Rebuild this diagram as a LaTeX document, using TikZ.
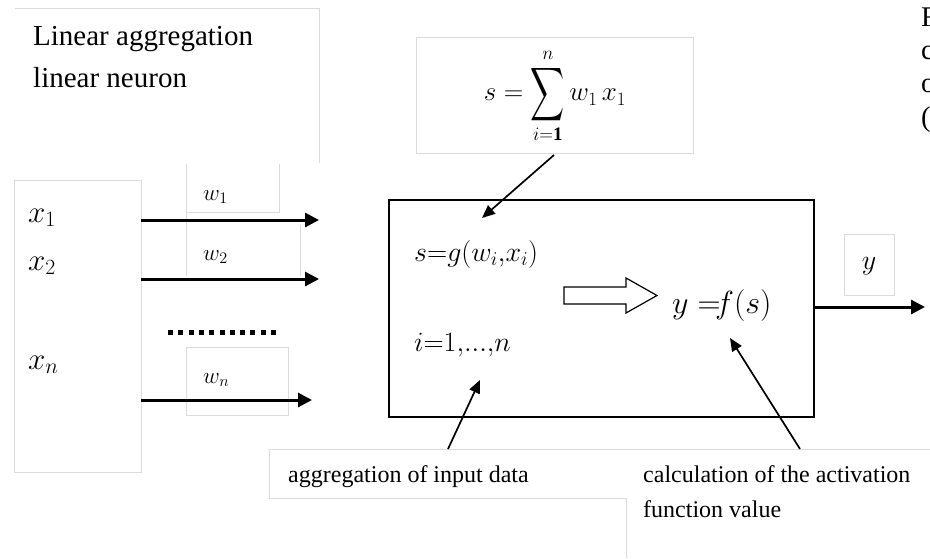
\RequirePackage{fix-cm}
\documentclass[tikz,border=0pt]{standalone}
\usepackage{exscale}
\usepackage{fontspec}
\setmainfont{Liberation Serif}
\usetikzlibrary{arrows.meta}
\tikzset{
  faint/.style={draw=black!14, line width=0.8pt},
  flow/.style={line width=3pt, -{Triangle[length=14pt,width=14pt]}},
  pointer/.style={line width=1.7pt, -{Triangle[length=13pt,width=11pt]}},
  txt/.style={inner sep=0pt, anchor=base west},
  big/.style={font=\fontsize{#1}{#1}\selectfont},
}
\newcommand{\tallsum}{\mathop{\vcenter{\hbox{\scalebox{0.95}[1.5]{$\displaystyle\sum$}}}}\limits}
\newcommand{\limtext}[1]{\hbox{\fontsize{19}{19}\selectfont$#1$}}
\begin{document}
\begin{tikzpicture}[x=1pt,y=-1pt]
  \useasboundingbox (0,0) rectangle (930,558);
  % Light text frames
  \draw[faint] (15,8) -- (319,8) -- (319,163);
  \draw[faint] (14,180) rectangle (141,472);
  \draw[faint] (186,164) -- (186,276) (186,212) -- (279,212) -- (279,164);
  \draw[faint] (300,225) -- (300,276);
  \draw[faint] (186,347) rectangle (288,415);
  \draw[faint] (416,37) rectangle (693,153);
  \draw[faint] (844,234) rectangle (894,295);
  \draw[faint] (269,449) -- (930,449) (269,449) -- (269,498) -- (626,498) -- (626,558);
  % Title
  \node[txt, big=29] (title1) at (33,45) {Linear aggregation};
  \node[txt, big=29] (title2) at (33,87) {linear neuron};
  % Text cut at the page edge
  \node[txt, big=28.5] (cut1) at (921,26) {F};
  \node[txt, big=28.5] (cut2) at (921,59) {c};
  \node[txt, big=28.5] (cut3) at (921,92) {o};
  \node[txt, big=28.5] (cut4) at (921,126) {(};
  % Inputs
  \node[txt, big=31] (x1) at (28,222) {$x_1$};
  \node[txt, big=31] (x2) at (28,270) {$x_2$};
  \node[txt, big=31] (xn) at (28,369) {$x_n$};
  % Weights
  \node[txt, big=23] (w1) at (203,200) {$w_1$};
  \node[txt, big=23] (w2) at (203,260) {$w_2$};
  \node[txt, big=23] (wn) at (203,383) {$w_n$};
  \coordinate (src) at (141,0);
  \coordinate (e1) at (319,220);
  \coordinate (e2) at (319,279);
  \coordinate (en) at (312,400);
  \draw[flow] (src |- e1) -- (e1);
  \draw[flow] (src |- e2) -- (e2);
  \draw[flow] (src |- en) -- (en);
  \draw[line width=5pt, dash pattern=on 5pt off 5.3pt] (168,332) -- (281,332);
  % Sum formula
  \node[big=27] (sum) at (555,96)
    {$\displaystyle s = \tallsum_{\limtext{i{=}\mathbf{1}}}^{\limtext{n}} w_1\, x_1$};
  % Neuron body
  \node[draw, line width=1.5pt, minimum width=425pt, minimum height=217pt,
    inner sep=0pt, anchor=north west] (neuron) at (388,199) {};
  \node[txt, big=28] (agg) at (414,261) {$s{=}g(w_i{,}x_i)$};
  \node[txt, big=28] (idx) at (414,351) {$i{=}1{,}{.}{.}{.}{,}n$};
  \node[txt, big=32] (act) at (672,313) {$y\;{=}\!f(s)$};
  % Hollow arrow
  \draw[line width=1.2pt, line join=miter] (564,287) -- (626,287) -- (626,278) -- (657,295.5)
    -- (626,313) -- (626,304) -- (564,304) -- cycle;
  % Output
  \node[big=28] (y) at (869,266) {$y$};
  \coordinate (out) at (925,307);
  \draw[flow] (neuron.east |- out) -- (out);
  % Notes below
  \node[txt, big=24] (note1) at (288,482) {aggregation of input data};
  \node[txt, big=24] (note2) at (643,482) {calculation of the activation};
  \node[txt, big=24] (note3) at (643,517) {function value};
  % Pointers
  \coordinate (p1) at (482,218);
  \coordinate (p2) at (480,380);
  \coordinate (p3) at (730,338);
  \coordinate (s1) at (554,155);
  \coordinate (s2) at (448,449);
  \coordinate (s3) at (800,449);
  \draw[pointer] (s1) -- (p1);
  \draw[pointer] (s2) -- (p2);
  \draw[pointer] (s3) -- (p3);
\end{tikzpicture}
\end{document}
